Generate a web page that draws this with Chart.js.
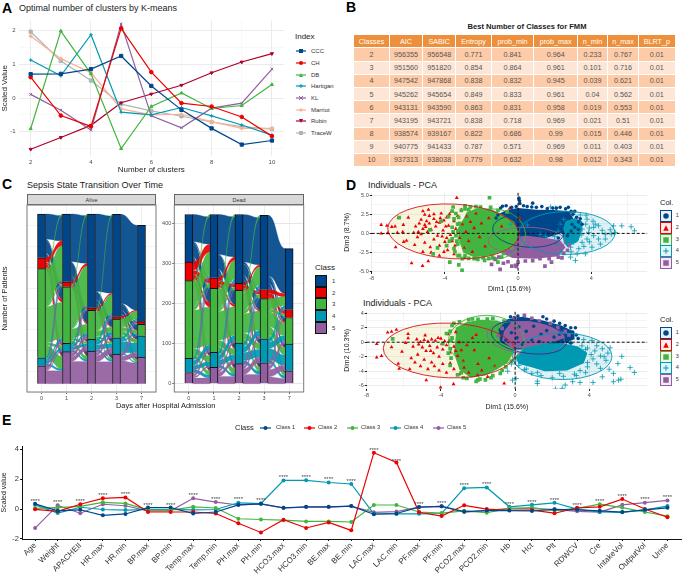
<!DOCTYPE html>
<html>
<head>
<meta charset="utf-8">
<script src="https://cdn.jsdelivr.net/npm/chart.js@4"></script>
<style>
  html, body { margin: 0; padding: 0; background: #fff; width: 685px; height: 576px; overflow: hidden; font-family: "Liberation Sans", sans-serif; }
  canvas { position: absolute; }
  .txt { position: absolute; white-space: nowrap; line-height: 1; }
  .strip { position: absolute; background: #D9D9D9; border: 1px solid #666; box-sizing: border-box; font-size: 5.5px; color: #333; text-align: center; line-height: 10px; }
  table { position: absolute; left: 353px; top: 34px; width: 322px; border-collapse: collapse; table-layout: fixed; font-size: 7.2px; color: #555; text-align: center; }
  th { background: #EE8F3B; color: #fff; font-weight: normal; height: 12.4px; padding: 0; border: 1px solid #fff; }
  td { height: 12.2px; padding: 0; border: 1px solid #fff; }
  tr:nth-child(odd) td { background: #FDCBA8; }
  tr:nth-child(even) td { background: #FEE6D6; }
</style>
</head>
<body>
<script>
// ---- palette (lancet)
const BLUE = '#00468B', RED = '#ED0000', GREEN = '#42B540', TEAL = '#0099B4', PURPLE = '#925E9F';
const SALMON = '#FDAF91', WINE = '#AD002A', GREY = '#ADB6B6';

// ---- A: K-means indices
const clusterCounts = [2, 3, 4, 5, 6, 7, 8, 9, 10];
const indexNames = ['CCC', 'CH', 'DB', 'Hartigan', 'KL', 'Marriot', 'Rubin', 'TraceW'];
const ccc = [0.71, 0.72, 0.86, 1.25, 0.36, -0.35, -0.9, -1.38, -1.26];
const ch = [0.62, -0.52, -0.84, 2.07, 0.77, -0.15, -0.25, -0.56, -1.13];
const db = [-0.91, 1.99, 0.72, -1.5, -0.25, 0.15, -0.31, -0.22, 0.4];
const hartigan = [1.13, 0.66, 1.88, -0.42, -0.5, -0.28, -0.53, -0.8, -1.1];
const kl = [0.11, -0.36, -0.95, 2.2, -0.53, -0.88, -0.3, -0.15, 0.86];
const marriot = [1.84, 1.17, 0.75, -0.32, -0.5, -0.48, -0.7, -0.9, -0.9];
const rubin = [-1.52, -1.17, -0.81, -0.14, 0.12, 0.38, 0.75, 1.07, 1.32];
const traceW = [1.97, 1.1, 0.52, -0.18, -0.38, -0.54, -0.71, -0.85, -0.92];

// ---- B: table
const tableHead = ['Classes', 'AIC', 'SABIC', 'Entropy', 'prob_min', 'prob_max', 'n_min', 'n_max', 'BLRT_p'];
const tableCols = [36, 33, 33.4, 35.3, 42.7, 43.6, 30, 31, 36.7];
const tableRows = [
  ['2', '956355', '956548', '0.771', '0.841', '0.964', '0.233', '0.767', '0.01'],
  ['3', '951560', '951820', '0.854', '0.864', '0.961', '0.101', '0.716', '0.01'],
  ['4', '947542', '947868', '0.838', '0.832', '0.945', '0.039', '0.621', '0.01'],
  ['5', '945262', '945654', '0.849', '0.833', '0.961', '0.04', '0.562', '0.01'],
  ['6', '943131', '943590', '0.863', '0.831', '0.958', '0.019', '0.553', '0.01'],
  ['7', '943195', '943721', '0.838', '0.718', '0.969', '0.021', '0.51', '0.01'],
  ['8', '938574', '939167', '0.822', '0.686', '0.99', '0.015', '0.446', '0.01'],
  ['9', '940775', '941433', '0.787', '0.571', '0.969', '0.011', '0.403', '0.01'],
  ['10', '937313', '938038', '0.779', '0.632', '0.98', '0.012', '0.343', '0.01']
];

// ---- C: class sizes per day, row = class 1..5
const dayLabels = ['0', '1', '2', '3', '7'];
const aliveCounts = [
  [261, 404, 559, 610, 574],
  [65, 30, 16, 14, 16],
  [531, 338, 173, 112, 68],
  [48, 49, 69, 97, 127],
  [107, 191, 195, 177, 159]
];
const deadCounts = [
  [119, 158, 172, 185, 152],
  [46, 26, 17, 23, 20],
  [194, 160, 132, 100, 66],
  [35, 37, 51, 60, 67],
  [28, 41, 50, 52, 32]
];
// transitions between neighbouring days, estimated by eye
const aliveFlows = [
  [[150, 6, 75, 8, 22], [30, 8, 17, 4, 6], [215, 12, 215, 15, 74], [4, 3, 14, 15, 12], [5, 1, 17, 7, 77]],
  [[285, 4, 75, 12, 28], [15, 4, 7, 2, 2], [245, 6, 55, 12, 20], [6, 1, 14, 16, 12], [8, 1, 22, 27, 133]],
  [[460, 4, 45, 24, 24], [8, 2, 3, 2, 1], [120, 4, 30, 10, 9], [12, 2, 18, 25, 12], [10, 2, 16, 36, 131]],
  [[505, 6, 35, 20, 14], [6, 3, 2, 2, 1], [45, 4, 18, 22, 15], [10, 2, 9, 58, 7], [8, 1, 4, 25, 122]]
];
const deadFlows = [
  [[68, 3, 35, 6, 7], [20, 10, 12, 2, 2], [64, 10, 95, 15, 10], [3, 2, 12, 10, 8], [3, 1, 6, 4, 14]],
  [[100, 1, 35, 12, 10], [9, 8, 6, 2, 1], [52, 6, 72, 15, 15], [6, 1, 12, 12, 6], [5, 1, 7, 10, 18]],
  [[118, 5, 28, 10, 10], [5, 7, 3, 1, 1], [50, 8, 48, 15, 10], [7, 2, 14, 20, 8], [5, 1, 7, 14, 23]],
  [[112, 3, 10, 8, 4], [8, 8, 3, 1, 0], [22, 5, 32, 18, 8], [6, 2, 14, 26, 7], [4, 2, 7, 14, 13]]
];
// thin class 3 band that lands on the very top of class 1
const aliveSliver = [10, 10, 10, 0];
const deadSliver = [6, 6, 6, 0];

// ---- D: PCA. dense cores are outlines, stragglers are points
const d1BlueCore = [[-1, 2.6], [-0.6, 3.1], [0, 3.3], [1, 3.1], [2, 3.05], [2.8, 2.9], [3, 2], [3, 0.8], [2.3, 0], [1, -1], [-0.2, -1], [-0.6, 0.2], [-1, 1.5]];
const d1GreenCore = [[-3, 1.8], [-2.8, 2.8], [-2.2, 3.3], [-1.5, 3.2], [-0.8, 2.4], [-0.2, 1.5], [0, 0.3], [-0.1, -1.2], [-0.6, -2.2], [-1.5, -2.9], [-2.4, -3.1], [-3, -2.5], [-3.2, -1], [-3.3, 0.5]];
const d1PurpleCore = [[-1, -1.2], [-0.5, -0.5], [0.5, -0.3], [1.5, -0.6], [2.3, -0.9], [2.6, -1.8], [2.2, -3], [1, -3.3], [-0.3, -3.2], [-0.9, -2.6]];
const d1TealCore = [[2.6, 1.6], [3.1, 2], [3.5, 1.6], [3.5, 0.4], [3.3, -1], [2.7, -1.8], [2.5, -1.2], [2.4, 0.2]];
const d1Blue = [[-0.95, 3.3], [-0.85, 3.55], [-0.65, 3.6], [-0.35, 3.4], [-0.1, 3.5], [0.05, 4.6], [0.08, 4.25], [0.1, 3.9], [0.3, 3.6], [0.5, 3.5], [0.8, 3.95], [0.75, 3.45], [1, 3.4], [1.3, 3.5], [1.6, 3.25], [1.9, 3.3], [2.3, 3.4], [2.6, 3.2], [2.75, 3.4], [2.9, 2.9], [3, 2.5], [3.2, 2.1], [3.3, 1.5], [2.95, 1.2], [3.1, 0.8], [-1.1, 2.4], [-1.2, 2], [2.6, 2.2], [3.4, 1.9], [3.1, 2.9], [2.1, 3.3], [3.5, 1.2], [2.9, 0.3], [2.7, -0.3], [3.3, 0.5], [2.4, 0.2], [2.2, -0.6]];
const d1Red = [[-3.35, 4.65], [-6.54, 2.02], [-6, 2.07], [-7.48, 1.12], [-7.17, 1], [-6.9, 0.86], [-6.72, 0.9], [-6.27, 1.12], [-7.48, 0], [-7.14, 0.04], [-6.6, 0.1], [-6.3, 0.2], [-5.82, -3.88], [-5.22, -4.23], [-4.91, -3.62], [-6.69, -1.81], [-6.25, -1.1], [-6.1, -0.95], [-5.65, -1.5], [-5.2, -2.4], [-4.75, -2.5], [-4.3, -2.9], [-4.05, -2.4], [-5.6, 0.9], [-5.4, 1.3], [-5.3, 1.8], [-5.2, 0.6], [-5.1, 1.1], [-5, 1.6], [-4.95, 0.2], [-4.85, 2.3], [-5.2, 2.9], [-5.1, 2.45], [-4.9, 3.1], [-4.6, 1.9], [-4.5, 0.9], [-4.4, -0.3], [-4.3, 1.4], [-4.2, 2.6], [-4.1, 0.4], [-4, -1.1], [-3.9, 2.1], [-3.8, 1], [-3.7, -0.2], [-3.65, 2.8], [-3.5, 1.6], [-3.45, -1.6], [-3.4, 0.6], [-3.3, 2.3], [-3.2, -0.6], [-3.1, 3.1], [-3.05, 1.2], [-2.95, -1.9], [-2.85, 0.2], [-2.8, 2.2], [-2.7, -1], [-2.6, 1.5], [-2.5, -2.4], [-2.4, 0.7], [-2.3, 2.6], [-2.1, -0.5], [-2, 1.3], [-1.8, -1.7], [-1.6, 2], [-5.7, 0.1], [-5.5, -0.5], [-5.1, -1.2], [-4.8, -1.8], [-4.6, -0.8], [-4.3, -1.6], [-3.85, -2.2], [-3.5, -2.7], [-2.9, -3.2], [-0.45, 3.3], [0.1, 2], [-0.9, 0.9], [-5.45, 0.2], [-5.3, -0.1], [-5.05, 0.85], [-4.85, 1.3], [-4.75, 0.5], [-4.6, 2.5], [-4.45, 1.5], [-4.25, 2], [-4.05, 1.7], [-3.95, 0.9], [-3.75, 2.5], [-3.6, -1], [-3.25, 0.1], [-4.15, -0.4], [-3.9, -0.6]];
const d1Green = [[-1.56, 4.65], [-3.55, 3.45], [-4.64, -2.67], [-3.73, -3.75], [-3.24, -4.1], [-3.06, -4.83], [-3.28, -2.9], [-2.9, 3.6], [-2.6, 3.45], [-2.3, 3.5], [-1.83, -3.54], [-1.6, -3.3], [-1.1, -3.75], [-1.3, -3.3], [-4.82, 0.47], [-4.2, 1.6], [-3.8, 2.2], [-3.6, 0.8], [-3.6, -0.7], [-3.9, -1.6], [-3.5, -2], [-3.4, 2.6], [-3.3, 1.2], [-3.4, -0.3], [-3.3, -1.4], [-3.25, 2.1], [-2.7, 3.1], [-2.9, -2.9], [-2.2, -3.4], [-0.9, -3.1], [-6.5, 2.05], [-4.4, -1.9], [-3.5, 1.9], [-3.35, -1], [-3.45, -2.4], [-3.1, 3], [-3.2, -2.9], [-3.6, 2.9], [-3.75, -1], [-3.3, 0.3], [-2.9, 3.2], [-2.05, 3.45], [-1.5, 3.4], [-1.1, 3], [-0.6, 2.8], [-2.7, -3.25], [-2.4, -3.3], [-1.9, -3.2], [-1.4, -3.1], [-0.8, -2.6], [-0.35, -1.9], [-3.55, 0.2], [-3.2, 1.3], [-3.05, -3.3]];
const d1Purple = [[-0.98, -4.7], [-0.34, -4.27], [-0.13, -4.18], [-0.1, -4.3], [1.47, -4.27], [1.83, -3.75], [2.2, -3.1], [2.4, -3.2], [-1.45, -4.05], [-0.8, -3.9], [-0.55, -3.7], [0, -3.75], [0.4, -3.6], [0.8, -3.55], [1.2, -3.3], [1.7, -3.3], [2, -2.7], [2.5, -2.6], [-1.25, -3.4], [-1.05, -3.1], [2.8, -1.5], [2.7, -2.2]];
const d1Teal = [[1.78, 3.45], [2.05, 3.27], [5.22, 0.99], [5.67, 0.99], [6.18, 0.86], [6.36, 0.34], [5.04, 0.47], [5.31, 0.13], [4.77, -0.09], [5.1, -0.09], [4.4, 1], [4.13, 0.78], [3.72, 2.37], [3.77, 1.85], [4.22, 1.2], [3.32, 1.2], [3.5, 0.56], [3.86, 0.13], [4.13, -0.3], [4.4, -0.73], [4.77, -0.73], [4.5, -1.4], [4.04, -1.8], [3.68, -2.67], [3.14, -3.53], [2.87, -3.1], [3.23, -2.67], [3.32, -2], [2.87, -1.8], [3.05, -1.17], [2.68, -0.52], [2.77, 0.56], [3.14, -0.3], [3.5, -1.17], [3.77, -0.73], [2.5, 1.85], [2.3, 1.2], [2.2, 0.3], [2, -0.4], [2.1, -1.4], [2.4, -2.4], [4.1, 1.6], [3.4, 2.4], [3, 2.5], [4.6, 0.4], [1.5, -0.4], [1.2, -0.1], [0.5, 1.1], [-0.4, 1.2], [3.9, 0.7], [3.7, 1.2], [3.6, -1.7], [3.9, -1.1], [2.9, -2.4], [3.45, -0.2]];

const d2BlueCore = [[-0.9, 1.8], [-0.4, 3.2], [0.4, 3.5], [1.5, 3], [2.5, 2.3], [3.2, 1.4], [3.2, 0.4], [2.4, -0.4], [1, -1], [0, -1], [-0.8, 0]];
const d2GreenCore = [[-3.2, 0.8], [-3.2, 2], [-2.6, 2.8], [-1.8, 3.1], [-1, 3], [-0.4, 2.5], [0, 0.8], [-0.1, -1.5], [-0.4, -2.8], [-1, -3.8], [-1.6, -4.6], [-2.4, -4.9], [-3, -3.8], [-3.3, -1.5]];
const d2PurpleCore = [[-0.6, 1.5], [-0.2, 2.8], [0.8, 3], [1.8, 2.4], [2.6, 1.4], [2.7, 0.6], [1.8, -0.2], [0.6, -0.9], [-0.2, -0.8], [-0.7, 0.2]];
const d2TealCore = [[0, -2], [0.5, -0.8], [1.5, -0.2], [2.5, -0.1], [3.4, -0.6], [3.9, -1.5], [3.7, -2.9], [2.8, -3.9], [1.6, -4], [0.8, -3.4], [0.2, -3]];
const d2Blue = [[-0.25, 3.5], [-0.05, 3.4], [0.15, 3.6], [0.2, 3.2], [1.5, 3.5], [1.7, 3.2], [2.1, 2.9], [2.4, 2.6], [2.7, 2.3], [3, 2], [3.25, 2], [3.1, 1.4], [3.3, 1], [3.4, 0.5], [2.8, 0.1], [3, -0.1], [0.2, 2.1], [0.6, 1.5], [1, 2.2], [1.4, 1.1], [0.1, 0.6], [-0.2, 1.3], [0.9, 0.3], [1.7, 1.6], [2.1, 0.7], [2.4, 1.1], [-0.5, 0.3], [0.4, -0.3], [1.3, 0.1], [2.6, 1.7]];
const d2Red = [[-7.46, -0.23], [-7.46, -2.1], [-7.2, -1.9], [-6.87, 1.36], [-6.66, 1.45], [-6.4, 1.73], [-5.77, 1.14], [-5.77, 0.55], [-6.66, -0.68], [-6.3, -2.95], [-6.25, -3.64], [-5.68, -3.73], [-4.79, -5.23], [-4.02, -6.23], [-3.32, -5.77], [-0.59, -5.68], [-2.02, -4.55], [-1.48, -4.77], [-5.3, 0.4], [-5.2, -0.3], [-5.1, 0.05], [-5, -0.7], [-4.9, 0.3], [-4.8, -1.2], [-4.7, 0.1], [-4.6, -0.5], [-4.5, 0.4], [-4.4, -1.5], [-4.3, 0.2], [-4.2, -0.7], [-4.1, -2], [-4, 0.5], [-3.9, -1], [-3.8, 0.15], [-3.7, -0.4], [-3.6, 1.1], [-3.5, -1.4], [-3.4, 0.5], [-3.3, -0.6], [-3.2, 1.4], [-3.1, -1.9], [-3, 0], [-2.9, -1.1], [-2.8, -2.6], [-5.6, -2.2], [-5.4, -2.8], [-5.25, -1.7], [-5.1, -3.3], [-4.9, -2.4], [-4.7, -3.7], [-4.5, -2.8], [-4.35, -3.3], [-4.1, -3.9], [-3.9, -3], [-3.7, -4.2], [-3.5, -2.9], [-3.3, -3.7], [-3, -4.4], [-2.75, -3.5], [-2.5, -4.2], [-2.2, -1.1], [-2, -3], [-1.8, -3.9], [-1.4, -2.2], [-1.1, -3.3], [-2.3, 0.6], [-6.1, -1.3], [-5.9, -0.1], [-2.1, 1], [-5.5, -0.6], [-4.85, 0.95], [-4.55, -1.2], [-4.15, 0.6], [-3.95, -0.2], [-3.55, 0.2], [-3.2, -1.2], [-2.6, -0.4]];
const d2Green = [[-6.6, 0.45], [-3.4, 2.3], [-3, 2.8], [-2.5, 3.1], [-2, 3.15], [-1.5, 3.2], [-3.9, -0.2], [-3.7, 1.2], [-3.6, -1.5], [-3.5, -3.2], [-3.1, -4.5], [-2.8, -4.9], [-2.1, -5.4], [-1.9, -5.1], [-1.6, -5.2], [-1.2, -4.6], [-0.8, -4.3], [-0.5, -3.4], [-3.4, 0.6], [-3.45, 0.2], [-3.5, 1.5], [-3.3, 2.6], [-2.9, -4.2], [-2.6, -5], [-2, -5.2], [-1.3, -4.9], [-0.7, -3.9], [-0.2, -2.6], [-1.2, 3.3], [-0.6, 2.9], [-2.3, 3.2], [-3.5, -0.9], [-3.45, -2.2]];
const d2Purple = [[0.5, 3.7], [0, 3.3], [0.9, 3.3], [1.3, 2.9], [1.9, 2.6], [2.3, 2], [2.7, 1.5], [2.9, 1], [-0.7, 1.9], [-0.9, 0.9]];
const d2Teal = [[2.18, -6.45], [2.54, -6.36], [1.2, -5.36], [1.2, -5.7], [-0.14, -5.23], [0.05, -5], [5.75, -1.95], [5.54, -2.95], [6.2, -3.5], [6.43, -4.18], [5.07, -3.73], [5.3, -4.3], [5.57, -5.23], [5.7, -5.1], [5.3, -5.45], [4.7, -4.77], [4.2, -5.55], [3.5, -5.55], [3.1, -5.45], [2.7, -5.9], [5.12, -0.77], [4.7, -0.9], [3.7, 0.36], [4.14, 0.23], [4.3, -1.2], [4.6, -1.9], [4.2, -2.3], [4.9, -2.5], [4.4, -3], [3.9, -3.4], [4.6, -3.6], [3.8, -1], [3.2, -4.4], [2.6, -4.7], [2, -4.9], [1.4, -4.6], [0.9, -4.3], [0.5, -3.8], [3.8, -4.2], [5, -1.5], [-0.4, -4], [-0.2, -3], [3.9, -0.8], [4.1, -1.7], [3.9, -2.8], [3.5, -3.9], [2.4, -4.3], [1.2, -4.2], [0.6, -3.7], [0.2, -3.2], [0, -2.6], [3, -0.2], [3.6, -0.5], [2, 0], [4.4, -0.5], [4.8, -2], [3.3, -4.6]];

// ellipses: [cx, cy, rx, ry, tilt in degrees], rx and ry in data units
const d1Ellipses = { red: [-3.53, 0.26, 3.6, 3.57, 3], green: [-1.45, -0.1, 1.85, 3.3, 0], blue: [0.56, 0.35, 1.95, 2.15, 4], purple: [0.47, -1, 2.1, 1.8, 0], teal: [2.67, 0.05, 2.63, 2.8, 0] };
const d2Ellipses = { red: [-3.54, -1.14, 3.57, 3.77, 2], green: [-1.55, 0.1, 2.05, 3.6, 0], blue: [0.75, 0.7, 2.05, 2.25, 8], purple: [0.57, 0.6, 2.1, 2.2, 6], teal: [2.54, -1.95, 2.68, 3.2, 0] };

// ---- E: scaled values by class
const variables = ['Age', 'Weight', 'APACHEII', 'HR.max', 'HR.min', 'BP.max', 'BP.min', 'Temp.max', 'Temp.min', 'PH.max', 'PH.min', 'HCO3.max', 'HCO3.min', 'BE.max', 'BE.min', 'LAC.max', 'LAC.min', 'PF.max', 'PF.min', 'PCO2.max', 'PCO2.min', 'Hb', 'Hct', 'Plt', 'RDWCV', 'Cre', 'IntakeVol', 'OutputVol', 'Urine'];
const class1 = [0.35, -0.12, -0.05, -0.42, -0.33, 0.1, 0.1, -0.3, -0.2, 0.28, 0.35, 0.08, 0.15, 0.15, 0.2, -0.35, -0.3, 0.13, 0.18, -0.17, -0.1, -0.1, -0.13, -0.02, -0.05, -0.12, -0.2, -0.05, 0.08];
const class2 = [-0.02, -0.15, 0.32, 0.72, 0.78, -0.2, -0.2, -0.2, -0.3, -0.95, -1.57, -0.72, -1.27, -0.9, -1.43, 3.78, 3.12, -0.22, -0.47, 0.25, 0, -0.08, -0.07, -0.28, 0.08, 0.15, 0.67, 0, -0.55];
const class3 = [0.05, 0.1, 0.18, 0.45, 0.38, -0.05, -0.07, 0.15, 0.07, -0.65, -0.7, -0.75, -0.83, -0.83, -0.87, 0.27, 0.27, -0.2, -0.27, -0.12, -0.25, 0.05, 0.1, -0.1, 0.05, 0.33, 0.1, -0.2, -0.48];
const class4 = [0.28, -0.27, 0.12, -0.03, -0.07, -0.03, -0.03, -0.05, -0.03, 0.42, 0.37, 1.92, 1.93, 1.78, 1.68, -0.33, -0.33, -0.32, -0.3, 1.4, 1.45, 0.15, 0.28, 0.42, 0, -0.2, -0.22, -0.05, 0.2];
const class5 = [-1.28, 0.25, -0.28, 0.32, 0.22, -0.12, -0.12, 0.72, 0.47, 0.27, 0.35, 0.07, 0.13, 0.13, 0.2, -0.22, -0.17, 0.13, 0.18, -0.2, -0.1, 0.05, 0.02, -0.02, -0.15, -0.2, 0.28, 0.43, 0.58];
const starLevels = [0.6, 0.49, 0.56, 0.96, 1.05, 0.33, 0.33, 0.96, 0.72, 0.69, 0.65, 2.2, 2.2, 2.06, 1.9, 4, 3.3, 0.38, 0.42, 1.63, 1.72, 0.4, 0.54, 0.67, 0.33, 0.58, 0.94, 0.69, 0.87];

const FONT = '"Liberation Sans", sans-serif';
Chart.defaults.font.family = FONT;
Chart.defaults.animation = false;
Chart.defaults.responsive = false;
Chart.defaults.plugins.legend.display = false;
Chart.defaults.plugins.tooltip.enabled = false;

function txt(text, x, y, o) {
  o = o || {};
  const d = document.createElement('div');
  d.className = 'txt';
  d.textContent = text;
  d.style.left = x + 'px';
  d.style.top = y + 'px';
  d.style.fontSize = (o.size || 6) + 'px';
  d.style.color = o.color || '#222';
  if (o.bold) d.style.fontWeight = 'bold';
  const tx = o.center ? '-50%' : '0';
  d.style.transform = 'translate(' + tx + ',-50%)';
  document.body.appendChild(d);
}

function addCanvas(box) {
  const c = document.createElement('canvas');
  c.width = box.r - box.l;
  c.height = box.b - box.t;
  c.style.left = box.l + 'px';
  c.style.top = box.t + 'px';
  c.style.width = c.width + 'px';
  c.style.height = c.height + 'px';
  document.body.appendChild(c);
  return c;
}

// pins the plot area to page pixels so panels line up with the reference
function padding(box, plot, yW, xH) {
  return { left: plot.l - box.l - yW, right: box.r - plot.r, top: plot.t - box.t, bottom: box.b - plot.b - xH };
}

function markerSvg(shape, color, size) {
  const s = size || 5, h = s / 2;
  const f = 'fill="' + color + '"';
  const l = 'stroke="' + color + '" stroke-width="1" fill="none"';
  if (shape === 'circle') return '<circle cx="0" cy="0" r="' + h + '" ' + f + '/>';
  if (shape === 'rect') return '<rect x="' + (-h) + '" y="' + (-h) + '" width="' + s + '" height="' + s + '" ' + f + '/>';
  if (shape === 'triangle') return '<path d="M0 ' + (-h) + 'L' + h + ' ' + h + 'L' + (-h) + ' ' + h + 'Z" ' + f + '/>';
  if (shape === 'down') return '<path d="M0 ' + h + 'L' + h + ' ' + (-h) + 'L' + (-h) + ' ' + (-h) + 'Z" ' + f + '/>';
  if (shape === 'diamond') return '<path d="M0 ' + (-h) + 'L' + h + ' 0L0 ' + h + 'L' + (-h) + ' 0Z" ' + f + '/>';
  if (shape === 'plus') return '<path d="M0 ' + (-h) + 'V' + h + 'M' + (-h) + ' 0H' + h + '" ' + l + '/>';
  if (shape === 'x') return '<path d="M' + (-h) + ' ' + (-h) + 'L' + h + ' ' + h + 'M' + h + ' ' + (-h) + 'L' + (-h) + ' ' + h + '" ' + l + '/>';
  return '';
}

function lineKey(x, y, color, shape, w) {
  const d = document.createElement('div');
  d.style.cssText = 'position:absolute;left:' + x + 'px;top:' + (y - 5) + 'px;width:' + w + 'px;height:10px';
  d.innerHTML = '<svg width="' + w + '" height="10" style="display:block"><line x1="0" y1="5" x2="' + w + '" y2="5" stroke="' + color + '" stroke-width="1.2"/><g transform="translate(' + (w / 2) + ',5)">' + markerSvg(shape, color, 4) + '</g></svg>';
  document.body.appendChild(d);
}

function boxKey(x, y, size, border, fill, shape, mark) {
  const d = document.createElement('div');
  d.style.cssText = 'position:absolute;box-sizing:border-box;left:' + x + 'px;top:' + y + 'px;width:' + size + 'px;height:' + size + 'px;border:1px solid ' + border + ';background:' + fill;
  if (shape) d.innerHTML = '<svg width="' + (size - 2) + '" height="' + (size - 2) + '" style="display:block"><g transform="translate(' + (size / 2 - 1) + ',' + (size / 2 - 1) + ')">' + markerSvg(shape, mark, 5.5) + '</g></svg>';
  document.body.appendChild(d);
}

// ---------------- panel letters and titles
txt('A', 2, 8, { size: 14, bold: true, color: '#000' });
txt('B', 346, 7, { size: 14, bold: true, color: '#000' });
txt('C', 2, 184, { size: 14, bold: true, color: '#000' });
txt('D', 346, 185, { size: 14, bold: true, color: '#000' });
txt('E', 2, 420, { size: 14, bold: true, color: '#000' });
txt('Optimal number of clusters by K-means', 19, 8, { size: 9 });
txt('Sepsis State Transition Over Time', 27, 185, { size: 9 });
txt('Individuals - PCA', 368, 185, { size: 9 });
txt('Individuals - PCA', 363, 303, { size: 9 });

// ---------------- A
(function () {
  const box = { l: 0, r: 290, t: 14, b: 175 }, plot = { l: 18.6, r: 284, t: 20, b: 156 };
  const styles = [
    [ccc, BLUE, 'rect'], [ch, RED, 'circle'], [db, GREEN, 'triangle'], [hartigan, TEAL, 'cross'],
    [kl, PURPLE, 'crossRot'], [marriot, SALMON, 'rectRot'], [rubin, WINE, 'triangle'], [traceW, GREY, 'rect']
  ];
  new Chart(addCanvas(box), {
    type: 'line',
    data: {
      datasets: styles.map((s, i) => ({
        label: indexNames[i],
        data: clusterCounts.map((x, k) => ({ x: x, y: s[0][k] })),
        borderColor: s[1], backgroundColor: s[1], borderWidth: 1.2, tension: 0,
        pointStyle: s[2], pointRadius: s[2] === 'rect' ? 2.3 : 1.8, pointBorderWidth: 1, pointBorderColor: s[1],
        pointRotation: indexNames[i] === 'Rubin' ? 180 : 0
      }))
    },
    options: {
      layout: { padding: padding(box, plot, 18.6, 19) },
      scales: {
        x: {
          type: 'linear', min: 1.6, max: 10.4, afterFit: s => { s.height = 19; },
          border: { display: false },
          grid: { color: c => c.tick.value % 2 === 0 ? '#EBEBEB' : '#F4F4F4', lineWidth: c => c.tick.value % 2 === 0 ? 1 : 0.6, drawTicks: false },
          ticks: { stepSize: 1, autoSkip: false, includeBounds: false, maxRotation: 0, padding: 3, color: '#4D4D4D', font: { size: 6 }, callback: v => v % 2 === 0 ? v : '' },
          title: { display: true, text: 'Number of clusters', color: '#222', font: { size: 8 }, padding: 0 }
        },
        y: {
          min: -1.72, max: 2.3, afterFit: s => { s.width = 18.6; },
          border: { display: false },
          grid: { color: c => Number.isInteger(c.tick.value) ? '#EBEBEB' : '#F4F4F4', lineWidth: c => Number.isInteger(c.tick.value) ? 1 : 0.6, drawTicks: false },
          ticks: { stepSize: 0.5, autoSkip: false, includeBounds: false, padding: 3, color: '#4D4D4D', font: { size: 6 }, callback: v => Number.isInteger(v) ? v : '' },
          title: { display: true, text: 'Scaled Value', color: '#222', font: { size: 8 }, padding: 0 }
        }
      }
    }
  });
  txt('Index', 295, 37, { size: 8 });
  const keyY = [51, 63, 74.5, 86, 98, 110, 121, 133];
  const keyShapes = ['rect', 'circle', 'triangle', 'plus', 'x', 'diamond', 'down', 'rect'];
  indexNames.forEach((n, i) => {
    lineKey(296, keyY[i], styles[i][1], keyShapes[i], 10);
    txt(n, 311, keyY[i], { size: 6, color: '#333' });
  });
})();

// ---------------- B
(function () {
  txt('Best Number of Classes for FMM', 527, 27, { size: 7.6, bold: true, center: true, color: '#222' });
  let html = '<colgroup>' + tableCols.map(w => '<col style="width:' + w + 'px">').join('') + '</colgroup><thead><tr>' +
    tableHead.map(h => '<th>' + h + '</th>').join('') + '</tr></thead><tbody>';
  tableRows.forEach(r => { html += '<tr>' + r.map(v => '<td>' + v + '</td>').join('') + '</tr>'; });
  const t = document.createElement('table');
  t.innerHTML = html + '</tbody>';
  document.body.appendChild(t);
})();

// ---------------- C
const classColors = [BLUE, RED, GREEN, TEAL, PURPLE];

function flowPlugin(counts, flows, sliver) {
  return {
    id: 'flows',
    beforeDatasetsDraw(chart) {
      const x = chart.scales.x, y = chart.scales.y, ctx = chart.ctx, half = 4;
      const ribbon = (x0, a0, a1, x1, b0, b1, color) => {
        const m = (x0 + x1) / 2;
        ctx.fillStyle = color;
        ctx.strokeStyle = color;
        ctx.lineWidth = 0.3;
        ctx.beginPath();
        ctx.moveTo(x0, y.getPixelForValue(a0));
        ctx.bezierCurveTo(m, y.getPixelForValue(a0), m, y.getPixelForValue(b0), x1, y.getPixelForValue(b0));
        ctx.lineTo(x1, y.getPixelForValue(b1));
        ctx.bezierCurveTo(m, y.getPixelForValue(b1), m, y.getPixelForValue(a1), x0, y.getPixelForValue(a1));
        ctx.closePath();
        ctx.fill();
        ctx.stroke();
      };
      const tops = day => {
        const out = [];
        let sum = 0;
        for (let c = 4; c >= 0; c--) { sum += counts[c][day]; out[c] = sum; }
        return out;
      };
      ctx.save();
      ctx.globalAlpha = 0.92;
      flows.forEach((m, t) => {
        const srcTop = tops(t), dstTop = tops(t + 1);
        const x0 = x.getPixelForValue(t) + half, x1 = x.getPixelForValue(t + 1) - half;
        const dstCur = dstTop.slice();
        const dstPos = m.map(() => []);
        let sliverDst = dstCur[0];
        dstCur[0] -= sliver[t];
        for (let j = 0; j < 5; j++) {
          for (let i = 0; i < 5; i++) {
            const n = (i === 2 && j === 0) ? m[i][j] - sliver[t] : m[i][j];
            dstPos[i][j] = dstCur[j];
            dstCur[j] -= n;
          }
        }
        for (let i = 0; i < 5; i++) {
          const rowSum = m[i].reduce((a, b) => a + b, 0);
          const k = counts[i][t] / rowSum;
          let cur = srcTop[i];
          let sliverSrc = null;
          if (i === 2) { sliverSrc = cur; cur -= sliver[t] * k; }
          for (let j = 0; j < 5; j++) {
            const n = (i === 2 && j === 0) ? m[i][j] - sliver[t] : m[i][j];
            ribbon(x0, cur, cur - n * k, x1, dstPos[i][j], dstPos[i][j] - n, classColors[i]);
            cur -= n * k;
          }
          if (i === 2 && sliver[t] > 0) {
            ribbon(x0, sliverSrc, sliverSrc - sliver[t] * k, x1, sliverDst, sliverDst - sliver[t], classColors[i]);
          }
        }
      });
      ctx.restore();
    }
  };
}

const panelBorder = {
  id: 'panelBorder',
  afterDraw(chart) {
    const a = chart.chartArea, ctx = chart.ctx;
    ctx.save();
    ctx.strokeStyle = '#7A7A7A';
    ctx.lineWidth = 1;
    ctx.strokeRect(a.left, a.top, a.width, a.height);
    ctx.restore();
  }
};

function facet(box, plot, yW, counts, flows, sliver, yMin, yMax, yStep, yTitle) {
  new Chart(addCanvas(box), {
    type: 'bar',
    data: {
      datasets: [4, 3, 2, 1, 0].map(c => ({
        label: String(c + 1),
        data: counts[c].map((v, i) => ({ x: i, y: v })),
        backgroundColor: classColors[c], borderColor: '#111', borderWidth: 1, barThickness: 8
      }))
    },
    options: {
      layout: { padding: padding(box, plot, yW, 10) },
      scales: {
        x: {
          type: 'linear', stacked: true, offset: false, min: -0.58, max: 4.58, afterFit: s => { s.height = 10; },
          border: { display: false },
          grid: { offset: false, color: '#EFEFEF', tickColor: '#666', tickLength: 2 },
          ticks: { stepSize: 1, autoSkip: false, includeBounds: false, maxRotation: 0, padding: 1, color: '#4D4D4D', font: { size: 5.5 }, callback: v => dayLabels[v] }
        },
        y: {
          stacked: true, min: yMin, max: yMax, afterFit: s => { s.width = yW; },
          border: { display: false },
          grid: { color: c => c.tick.value % yStep === 0 ? '#E6E6E6' : '#F3F3F3', tickColor: c => c.tick.value % yStep === 0 ? '#666' : 'transparent', tickLength: 2 },
          ticks: { stepSize: yStep / 2, autoSkip: false, includeBounds: false, padding: 1, color: '#4D4D4D', font: { size: 5.5 }, callback: v => v % yStep === 0 ? v : '' },
          title: { display: !!yTitle, text: yTitle, color: '#222', font: { size: 7.5 }, padding: 0 }
        }
      }
    },
    plugins: [flowPlugin(counts, flows, sliver), panelBorder]
  });
}

function strip(l, r, t, b, text) {
  const d = document.createElement('div');
  d.className = 'strip';
  d.style.cssText = 'left:' + l + 'px;top:' + t + 'px;width:' + (r - l) + 'px;height:' + (b - t) + 'px';
  d.textContent = text;
  document.body.appendChild(d);
}

strip(27, 156, 194, 205, 'Alive');
strip(174.3, 303.7, 194, 205, 'Dead');
facet({ l: 0, r: 160, t: 200, b: 402 }, { l: 27, r: 156, t: 205, b: 392 }, 27, aliveCounts, aliveFlows, aliveSliver, -49.5, 1065.6, 250, 'Number of Patients');
facet({ l: 160, r: 308, t: 200, b: 402 }, { l: 174.3, r: 303.7, t: 205, b: 392 }, 14.3, deadCounts, deadFlows, deadSliver, -20.7, 445.6, 100, '');
txt('Days after Hospital Admission', 165.7, 406, { size: 7.5, center: true });
txt('Class', 315, 268, { size: 8 });
classColors.forEach((c, i) => {
  boxKey(315, 275 + i * 11.74, 11.74, '#111', c);
  txt(String(i + 1), 332, 281 + i * 11.74, { size: 6, color: '#333' });
});

// ---------------- D
const pointLook = {
  blue: { pointStyle: 'circle', pointRadius: 1.8, color: BLUE },
  red: { pointStyle: 'triangle', pointRadius: 2.2, color: RED },
  green: { pointStyle: 'rect', pointRadius: 2.6, color: GREEN },
  teal: { pointStyle: 'cross', pointRadius: 2.7, color: TEAL },
  purple: { pointStyle: 'rect', pointRadius: 2.6, color: PURPLE }
};

function pcaPanel(box, plot, yW, xH, xMax, yMin, yMax, yStep, yDigits, yText, cores, points, ellipses) {
  const coresPlugin = {
    id: 'cores',
    beforeDatasetsDraw(chart) {
      const x = chart.scales.x, y = chart.scales.y, ctx = chart.ctx;
      const area = chart.chartArea;
      ctx.save();
      ctx.beginPath();
      ctx.rect(area.left, area.top, area.width, area.height);
      ctx.clip();
      const fills = { red: 'rgba(235,228,170,0.38)', teal: 'rgba(0,153,180,0.13)', blue: 'rgba(0,70,139,0.08)', green: 'rgba(66,181,64,0.08)', purple: 'rgba(146,94,159,0.08)' };
      Object.keys(ellipses).forEach(k => {
        const e = ellipses[k];
        ctx.fillStyle = fills[k];
        ctx.beginPath();
        ctx.ellipse(x.getPixelForValue(e[0]), y.getPixelForValue(e[1]),
          Math.abs(x.getPixelForValue(e[0] + e[2]) - x.getPixelForValue(e[0])),
          Math.abs(y.getPixelForValue(e[1] + e[3]) - y.getPixelForValue(e[1])),
          e[4] * Math.PI / 180, 0, Math.PI * 2);
        ctx.fill();
      });
      cores.forEach(c => {
        ctx.fillStyle = c[1];
        ctx.beginPath();
        c[0].forEach((p, i) => {
          const px = x.getPixelForValue(p[0]), py = y.getPixelForValue(p[1]);
          if (i === 0) ctx.moveTo(px, py); else ctx.lineTo(px, py);
        });
        ctx.closePath();
        ctx.fill();
      });
      ctx.restore();
    },
    afterDatasetsDraw(chart) {
      const x = chart.scales.x, y = chart.scales.y, ctx = chart.ctx, area = chart.chartArea;
      ctx.save();
      const strokes = { green: GREEN, purple: PURPLE, blue: BLUE, teal: TEAL, red: '#D8141C' };
      ['green', 'purple', 'blue', 'teal', 'red'].forEach(k => {
        const e = ellipses[k];
        ctx.strokeStyle = strokes[k];
        ctx.lineWidth = 0.9;
        ctx.beginPath();
        ctx.ellipse(x.getPixelForValue(e[0]), y.getPixelForValue(e[1]),
          Math.abs(x.getPixelForValue(e[0] + e[2]) - x.getPixelForValue(e[0])),
          Math.abs(y.getPixelForValue(e[1] + e[3]) - y.getPixelForValue(e[1])),
          e[4] * Math.PI / 180, 0, Math.PI * 2);
        ctx.stroke();
      });
      ctx.strokeStyle = '#111';
      ctx.lineWidth = 1;
      ctx.setLineDash([3, 2]);
      ctx.beginPath();
      ctx.moveTo(area.left, y.getPixelForValue(0));
      ctx.lineTo(area.right, y.getPixelForValue(0));
      ctx.moveTo(x.getPixelForValue(0), area.top);
      ctx.lineTo(x.getPixelForValue(0), area.bottom);
      ctx.stroke();
      ctx.restore();
    }
  };
  new Chart(addCanvas(box), {
    type: 'scatter',
    data: {
      datasets: points.map(p => {
        const look = pointLook[p[0]];
        return {
          label: p[0],
          data: p[1].map(v => ({ x: v[0], y: v[1] })),
          pointStyle: look.pointStyle, pointRadius: look.pointRadius,
          backgroundColor: look.color, borderColor: look.color, pointBorderWidth: look.pointStyle === 'cross' ? 0.8 : 0
        };
      })
    },
    options: {
      layout: { padding: padding(box, plot, yW, xH) },
      scales: {
        x: {
          type: 'linear', min: -8, max: xMax, afterFit: s => { s.height = xH; },
          border: { display: false },
          grid: { color: c => c.tick.value % 4 === 0 ? '#EBEBEB' : '#F4F4F4', tickColor: c => c.tick.value % 4 === 0 ? '#222' : 'transparent', tickLength: 2 },
          ticks: { stepSize: 2, autoSkip: false, includeBounds: false, maxRotation: 0, padding: 1, color: '#4D4D4D', font: { size: 5.5 }, callback: v => v % 4 === 0 ? v : '' },
          title: { display: true, text: 'Dim1 (15.6%)', color: '#222', font: { size: 7 }, padding: 0 }
        },
        y: {
          min: yMin, max: yMax, afterFit: s => { s.width = yW; },
          border: { display: false },
          grid: { color: c => c.tick.value % yStep === 0 ? '#EBEBEB' : '#F4F4F4', tickColor: c => c.tick.value % yStep === 0 ? '#222' : 'transparent', tickLength: 2 },
          ticks: { stepSize: yStep / 2, autoSkip: false, includeBounds: false, padding: 1, color: '#4D4D4D', font: { size: 5.5 }, callback: v => v % yStep === 0 ? v.toFixed(yDigits) : '' },
          title: { display: true, text: yText, color: '#222', font: { size: 7 }, padding: 0 }
        }
      }
    },
    plugins: [coresPlugin]
  });
}

pcaPanel({ l: 343, r: 652, t: 188, b: 293 }, { l: 371.7, r: 649, t: 192, b: 272 }, 28.7, 21, 7.06, -5.04, 5.3, 2.5, 1, 'Dim3 (8.7%)',
  [[d1BlueCore, BLUE], [d1PurpleCore, PURPLE], [d1GreenCore, GREEN], [d1TealCore, TEAL]],
  [['blue', d1Blue], ['purple', d1Purple], ['green', d1Green], ['teal', d1Teal], ['red', d1Red]],
  d1Ellipses);
pcaPanel({ l: 343, r: 652, t: 307, b: 411 }, { l: 366.7, r: 649, t: 311, b: 389 }, 23.7, 22, 7.12, -6.45, 4.19, 2, 0, 'Dim2 (10.3%)',
  [[d2GreenCore, GREEN], [d2BlueCore, BLUE], [d2PurpleCore, PURPLE], [d2TealCore, TEAL]],
  [['green', d2Green], ['purple', d2Purple], ['blue', d2Blue], ['teal', d2Teal], ['red', d2Red]],
  d2Ellipses);

function pcaLegend(top) {
  const keys = [[BLUE, 'circle', 'rgba(0,70,139,0.08)'], [RED, 'triangle', 'rgba(237,0,0,0.08)'], [GREEN, 'rect', 'rgba(66,181,64,0.08)'], [TEAL, 'plus', 'rgba(0,153,180,0.1)'], [PURPLE, 'rect', 'rgba(146,94,159,0.12)']];
  txt('Col.', 660, top - 7, { size: 7.5 });
  keys.forEach((k, i) => {
    boxKey(660, top + i * 11.8, 12, k[0], k[2], k[1], k[0]);
    txt(String(i + 1), 675.7, top + 6 + i * 11.8, { size: 5.5, color: '#333' });
  });
}
pcaLegend(210);
pcaLegend(327);

// ---------------- E
(function () {
  const box = { l: 0, r: 685, t: 440, b: 576 }, plot = { l: 22, r: 682, t: 446, b: 539 };
  const series = [[class1, BLUE, 'Class 1'], [class2, RED, 'Class 2'], [class3, GREEN, 'Class 3'], [class4, TEAL, 'Class 4'], [class5, PURPLE, 'Class 5']];
  const stars = {
    id: 'stars',
    afterDatasetsDraw(chart) {
      const x = chart.scales.x, y = chart.scales.y, ctx = chart.ctx;
      ctx.save();
      ctx.fillStyle = '#444';
      ctx.font = '6px ' + FONT;
      ctx.textAlign = 'center';
      ctx.textBaseline = 'middle';
      starLevels.forEach((v, i) => ctx.fillText('****', x.getPixelForValue(i), y.getPixelForValue(v) + 1));
      ctx.restore();
    }
  };
  new Chart(addCanvas(box), {
    type: 'line',
    data: {
      datasets: series.map(s => ({
        label: s[2],
        data: variables.map((v, i) => ({ x: i, y: s[0][i] })),
        borderColor: s[1], backgroundColor: s[1], borderWidth: 1.2, tension: 0,
        pointStyle: 'circle', pointRadius: 2, pointBorderWidth: 0
      }))
    },
    options: {
      layout: { padding: padding(box, plot, 22, 37) },
      scales: {
        x: {
          type: 'linear', min: -0.58, max: 28.6, afterFit: s => { s.height = 37; },
          border: { display: true, color: '#111', width: 1 },
          grid: { display: true, drawOnChartArea: false, color: '#111', tickLength: 2 },
          ticks: { stepSize: 1, autoSkip: false, includeBounds: false, minRotation: 45, maxRotation: 45, padding: 0, color: '#333', font: { size: 8 }, callback: v => variables[v] }
        },
        y: {
          min: -2.01, max: 4.23, afterFit: s => { s.width = 22; },
          border: { display: true, color: '#111', width: 1 },
          grid: { display: true, drawOnChartArea: false, color: '#111', tickLength: 2 },
          ticks: { stepSize: 2, autoSkip: false, includeBounds: false, padding: 1, color: '#333', font: { size: 7.5 } },
          title: { display: true, text: 'Scaled value', color: '#222', font: { size: 7 }, padding: 0 }
        }
      }
    },
    plugins: [stars]
  });
  txt('Class', 235, 428, { size: 7.5 });
  const keyX = [260, 304, 347, 390, 433], textX = [276, 318, 361, 404, 447];
  series.forEach((s, i) => {
    lineKey(keyX[i], 428, s[1], 'circle', 11);
    txt(s[2], textX[i], 428, { size: 5.8, color: '#333' });
  });
})();
</script>
</body>
</html>
